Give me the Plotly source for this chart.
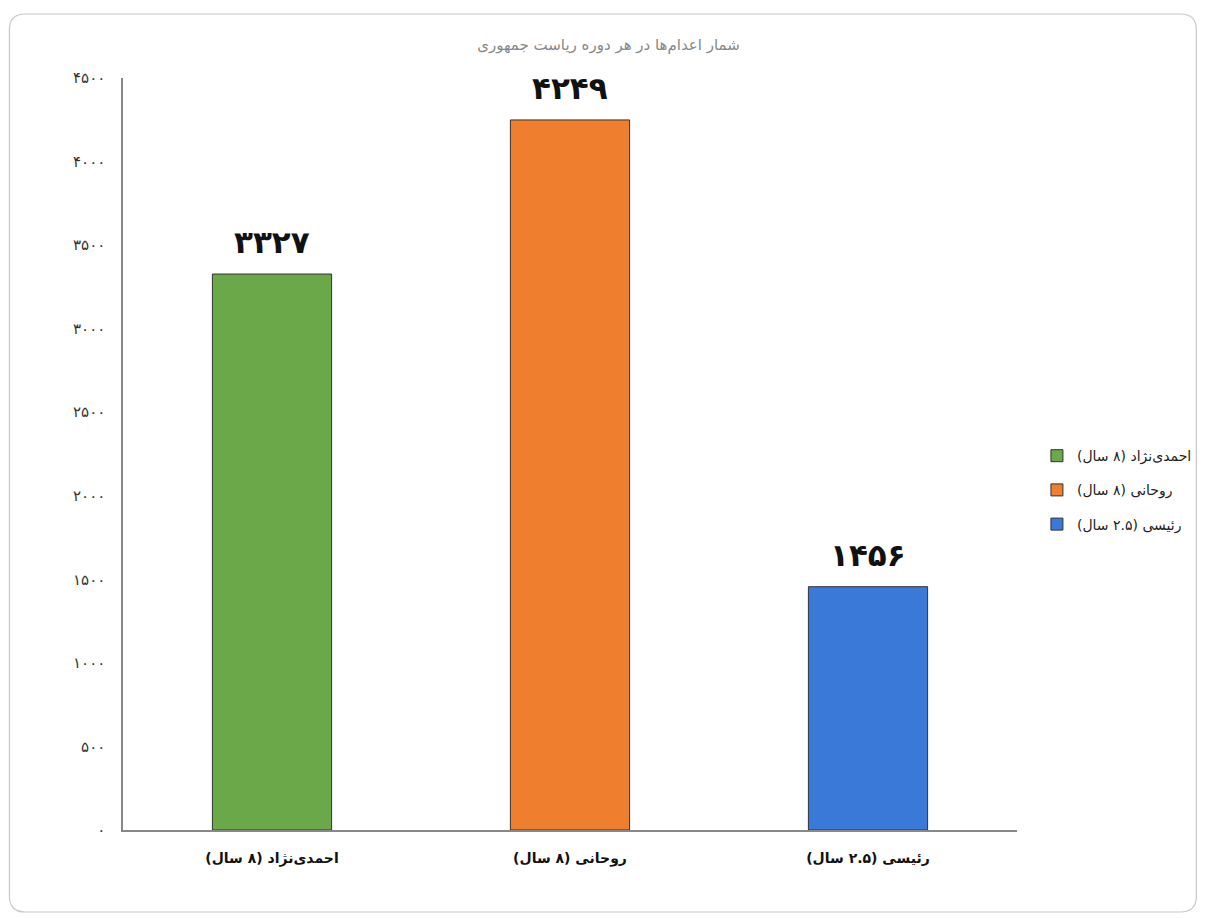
import plotly.graph_objects as go

# data
categories = ["احمدی‌نژاد (۸ سال)", "روحانی (۸ سال)", "رئیسی (۲.۵ سال)"]
executions = [3327, 4249, 1456]
colors = ["#6aa84a", "#f07e2f", "#3b79d9"]
y_ticks = [0, 500, 1000, 1500, 2000, 2500, 3000, 3500, 4000, 4500]
title = "شمار اعدام‌ها در هر دوره ریاست جمهوری"


def fa_digits(n):
    return str(n).translate(str.maketrans("0123456789", "۰۱۲۳۴۵۶۷۸۹"))


FONT = "DejaVu Sans"

fig = go.Figure()
for i, (cat, val, col) in enumerate(zip(categories, executions, colors)):
    fig.add_trace(go.Bar(
        x=[cat], y=[val], name=cat, legendgroup=f"g{i}",
        marker=dict(color=col, line=dict(color="#333333", width=1)),
        width=0.4, hoverinfo="y",
    ))
    fig.add_annotation(
        x=cat, y=val, text=f"<b>{fa_digits(val)}</b>",
        showarrow=False, yanchor="bottom", yshift=12,
        font=dict(family=FONT, size=31, color="#111111"),
    )

# page body adds 8px offset, so the figure is laid out 8px smaller
OFF = 8
W, H = 1209 - OFF, 918 - OFF
l, r, t, b = 123 - OFF, 189, 78 - OFF, 88
pw, ph = W - l - r, H - t - b


def px(xp):
    return (xp - l) / pw


def py(yp):
    return (H - b - yp) / ph


# rounded frame around the chart
x0, x1, y0, y1, rad = 1, 1192, 6, 904, 16
path = (
    f"M {px(x0 + rad)},{py(y0)} L {px(x1 - rad)},{py(y0)} "
    f"Q {px(x1)},{py(y0)} {px(x1)},{py(y0 + rad)} "
    f"L {px(x1)},{py(y1 - rad)} Q {px(x1)},{py(y1)} {px(x1 - rad)},{py(y1)} "
    f"L {px(x0 + rad)},{py(y1)} Q {px(x0)},{py(y1)} {px(x0)},{py(y1 - rad)} "
    f"L {px(x0)},{py(y0 + rad)} Q {px(x0)},{py(y0)} {px(x0 + rad)},{py(y0)} Z"
)
fig.add_shape(type="path", path=path, xref="paper", yref="paper",
              line=dict(color="#c8c8c8", width=1.2), layer="below")

fig.update_layout(
    width=W, height=H,
    margin=dict(l=l, r=r, t=t, b=b),
    paper_bgcolor="white", plot_bgcolor="white",
    barmode="overlay",
    title=dict(text=title, x=0.5, xref="container", y=1 - (45 - OFF) / H,
               yanchor="middle",
               font=dict(family=FONT, size=15, color="#888888")),
    font=dict(family=FONT, color="#222222"),
    showlegend=True,
    legend=dict(x=(1040 - 123) / pw, xanchor="left", y=0.452, yanchor="middle",
                traceorder="grouped", tracegroupgap=13,
                bgcolor="rgba(0,0,0,0)",
                font=dict(family=FONT, size=14, color="#222222"),
                itemwidth=30),
    xaxis=dict(showline=True, linecolor="#888888", linewidth=1.5,
               showgrid=False, ticks="", ticklabelstandoff=14,
               tickfont=dict(family=FONT, size=14, color="#111111"),
               tickvals=categories,
               ticktext=[f"<b>{c}</b>" for c in categories]),
    yaxis=dict(range=[0, 4500], tickvals=y_ticks,
               ticktext=[fa_digits(v) for v in y_ticks],
               showline=True, linecolor="#888888", linewidth=1.5,
               showgrid=False, zeroline=False, ticks="",
               ticklabelstandoff=13,
               tickfont=dict(family=FONT, size=15, color="#333333")),
)

fig.write_html("out.html")
